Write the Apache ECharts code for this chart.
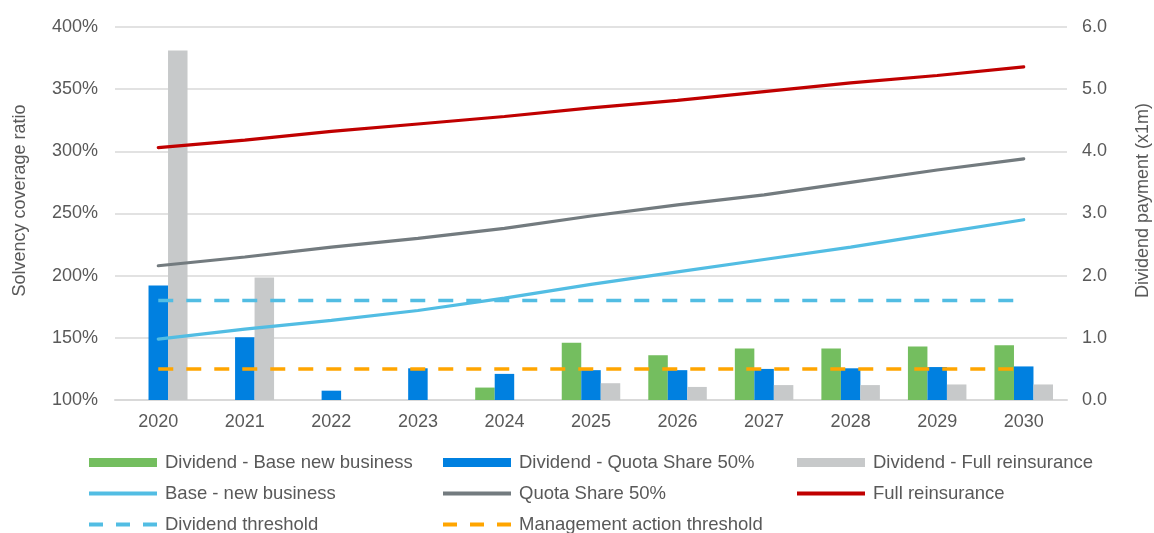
<!DOCTYPE html>
<html>
<head>
<meta charset="utf-8">
<title>Solvency coverage ratio and dividend payment</title>
<script src="https://cdn.jsdelivr.net/npm/echarts@6/dist/echarts.min.js"></script>
<style>
  html, body { margin: 0; padding: 0; background: #ffffff; }
  #chart { width: 1154px; height: 533px; }
</style>
</head>
<body>
<div id="chart"></div>
<script>
// Projection years
const years = ['2020', '2021', '2022', '2023', '2024', '2025', '2026', '2027', '2028', '2029', '2030'];

// Dividend payments (x1m), right axis
const divBase = [null, null, null, null, 0.20, 0.92, 0.72, 0.83, 0.83, 0.86, 0.88];
const divQuota = [1.84, 1.01, 0.15, 0.51, 0.42, 0.48, 0.48, 0.50, 0.51, 0.53, 0.54];
const divFull = [5.62, 1.97, null, null, null, 0.27, 0.21, 0.24, 0.24, 0.25, 0.25];

// Solvency coverage ratio (%), left axis
const ratioBase = [149, 157, 164, 172, 182, 193, 203, 213, 223, 234, 245];
const ratioQuota = [208, 215, 223, 230, 238, 248, 257, 265, 275, 285, 294];
const ratioFull = [303, 309, 316, 322, 328, 335, 341, 348, 355, 361, 368];

// Thresholds (%)
const dividendThreshold = years.map(() => 180);
const managementThreshold = years.map(() => 125);

// Axis ticks
const leftTicks = { min: 100, max: 400, interval: 50 };
const rightTicks = { min: 0, max: 6, interval: 1 };

const textColor = '#595959';
const gridColor = '#d9d9d9';
const font = 'Liberation Sans, Arial, sans-serif';

const colors = {
  green: '#74be5f',
  blue: '#0080e0',
  lightGray: '#c7c9ca',
  cyan: '#52bde3',
  slate: '#737b7f',
  red: '#c00000',
  orange: '#ffa500'
};

function barSeries(name, data, color) {
  return {
    name: name,
    type: 'bar',
    yAxisIndex: 1,
    data: data,
    barWidth: 19.5,
    barGap: '0%',
    itemStyle: { color: color },
    z: 1
  };
}

function lineSeries(name, data, color, dashed) {
  return {
    name: name,
    type: 'line',
    yAxisIndex: 0,
    data: data,
    symbol: 'none',
    showSymbol: false,
    smooth: false,
    z: 3,
    itemStyle: { color: color },
    lineStyle: {
      color: color,
      width: dashed ? 3.5 : 3.2,
      type: dashed ? [15, 13] : 'solid',
      cap: dashed ? 'butt' : 'round'
    }
  };
}

// Legend icons: a filled block for bars, a stroke for lines, three dashes for thresholds
const ICON_BAR = 'rect';
const ICON_LINE = 'path://M0,0h68v4h-68z';
const ICON_DASH = 'path://M0,0h14v4h-14z M27,0h14v4h-14z M54,0h14v4h-14z';

const legendText = { color: textColor, fontSize: 18.5, fontFamily: font, lineHeight: 18, padding: [0, 0, 0, 3] };

// One legend per entry so the three columns line up
function legendEntry(name, icon, left, rowCenter) {
  const h = icon === ICON_BAR ? 9 : 4;
  return {
    left: left,
    top: rowCenter - 9,
    padding: 0,
    itemWidth: 68,
    itemHeight: h,
    textStyle: legendText,
    selectedMode: false,
    data: [{ name: name, icon: icon }]
  };
}

const colX = [89, 443, 797];
const rowY = [462, 493, 524];

const chart = echarts.init(document.getElementById('chart'), null, { renderer: 'canvas' });

chart.setOption({
  animation: false,
  backgroundColor: '#ffffff',
  grid: { left: 115, right: 87, top: 27, bottom: 133, containLabel: false, outerBoundsMode: 'none' },
  legend: [
    legendEntry('Dividend - Base new business', ICON_BAR, colX[0], rowY[0]),
    legendEntry('Dividend - Quota Share 50%', ICON_BAR, colX[1], rowY[0]),
    legendEntry('Dividend - Full reinsurance', ICON_BAR, colX[2], rowY[0]),
    legendEntry('Base - new business', ICON_LINE, colX[0], rowY[1]),
    legendEntry('Quota Share 50%', ICON_LINE, colX[1], rowY[1]),
    legendEntry('Full reinsurance', ICON_LINE, colX[2], rowY[1]),
    legendEntry('Dividend threshold', ICON_DASH, colX[0], rowY[2]),
    legendEntry('Management action threshold', ICON_DASH, colX[1], rowY[2])
  ],
  xAxis: {
    type: 'category',
    data: years,
    boundaryGap: true,
    axisLine: { show: true, lineStyle: { color: gridColor, width: 2 } },
    axisTick: { show: false },
    axisLabel: { color: textColor, fontSize: 18, fontFamily: font, margin: 13 }
  },
  yAxis: [
    {
      type: 'value',
      position: 'left',
      min: leftTicks.min,
      max: leftTicks.max,
      interval: leftTicks.interval,
      name: 'Solvency coverage ratio',
      nameLocation: 'middle',
      nameGap: 86,
      nameTextStyle: { color: textColor, fontSize: 18, fontFamily: font, padding: [0, 0, 0, 26] },
      axisLine: { show: false },
      axisTick: { show: false },
      axisLabel: { color: textColor, fontSize: 18, fontFamily: font, margin: 17, formatter: '{value}%' },
      splitLine: { show: true, lineStyle: { color: gridColor, width: 1.5 } }
    },
    {
      type: 'value',
      position: 'right',
      min: rightTicks.min,
      max: rightTicks.max,
      interval: rightTicks.interval,
      name: 'Dividend payment (x1m)',
      nameLocation: 'middle',
      nameGap: 67,
      nameTextStyle: { color: textColor, fontSize: 18, fontFamily: font, padding: [0, 0, 0, 26] },
      axisLine: { show: false },
      axisTick: { show: false },
      axisLabel: {
        color: textColor, fontSize: 18, fontFamily: font, margin: 15,
        formatter: (v) => v.toFixed(1)
      },
      splitLine: { show: false }
    }
  ],
  series: [
    barSeries('Dividend - Base new business', divBase, colors.green),
    barSeries('Dividend - Quota Share 50%', divQuota, colors.blue),
    barSeries('Dividend - Full reinsurance', divFull, colors.lightGray),
    lineSeries('Base - new business', ratioBase, colors.cyan, false),
    lineSeries('Quota Share 50%', ratioQuota, colors.slate, false),
    lineSeries('Full reinsurance', ratioFull, colors.red, false),
    lineSeries('Dividend threshold', dividendThreshold, colors.cyan, true),
    lineSeries('Management action threshold', managementThreshold, colors.orange, true)
  ]
});
</script>
</body>
</html>
